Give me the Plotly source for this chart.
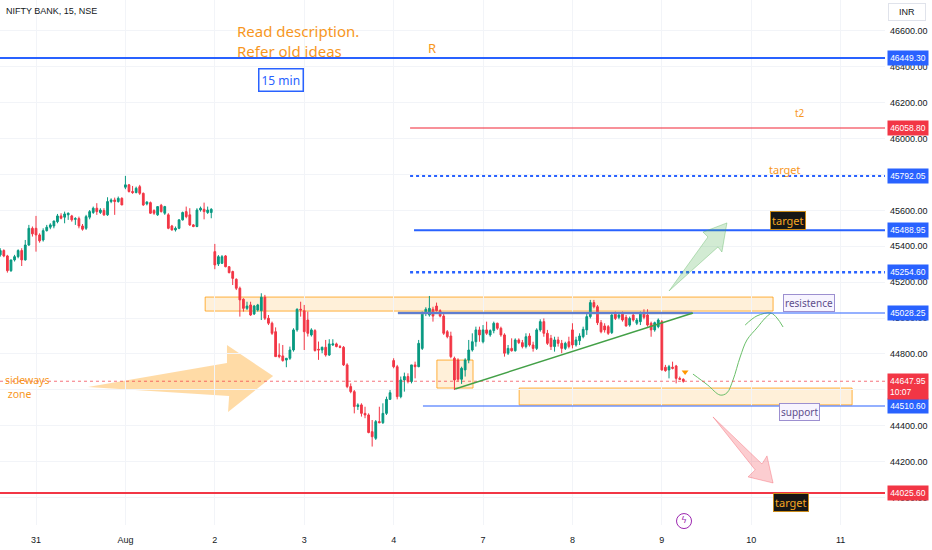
import plotly.graph_objects as go

# NIFTY BANK 15 min bars (10 bars of Jul 28, then 25 per session, Aug 9 partial)
bar_open = [45352, 45376, 45346, 45264, 45324, 45342, 45376, 45324, 45407, 45500,
            45500, 45463, 45435, 45487, 45506, 45513, 45537, 45569, 45562, 45575, 45569, 45550, 45554, 45513, 45500, 45562, 45588, 45612, 45588, 45599, 45575, 45649, 45658, 45649, 45667,
            45729, 45742, 45705, 45699, 45732, 45695, 45636, 45643, 45599, 45575, 45628, 45584, 45575, 45513, 45491, 45500, 45547, 45593, 45575, 45519, 45510, 45602, 45606, 45588, 45588,
            45370, 45301, 45305, 45346, 45286, 45259, 45216, 45166, 45105, 45054, 45073, 45023, 45045, 45041, 45116, 44999, 44971, 44924, 44794, 44789, 44766, 44776, 44822, 44934, 45049,
            45041, 44989, 44906, 44930, 44826, 44822, 44837, 44794, 44850, 44856, 44841, 44837, 44739, 44618, 44590, 44507, 44516, 44469, 44460, 44367, 44330, 44423, 44417, 44469, 44547,
            44763, 44729, 44562, 44655, 44674, 44646, 44739, 44729, 44831, 45026, 45017, 45049, 45067, 45041, 45011, 44924, 44900, 44776, 44766, 44659, 44711, 44766, 44822, 44868, 44934,
            44868, 44934, 44906, 44930, 44971, 44943, 44906, 44804, 44831, 44818, 44878, 44863, 44841, 44900, 44850, 44831, 44934, 44980, 44915, 44887, 44841, 44878, 44859, 44831, 44868,
            44934, 44850, 44874, 44896, 44934, 45008, 45086, 45063, 44974, 44956, 44952, 44919, 45026, 45004, 45026, 45004, 44961, 45017, 44971, 44980, 45026, 45017, 44971, 44934, 44952,
            44980, 44726, 44711, 44726, 44733, 44664, 44659]
bar_high = [45389, 45383, 45352, 45324, 45352, 45383, 45389, 45435, 45519, 45510,
            45569, 45472, 45500, 45519, 45528, 45541, 45580, 45584, 45593, 45588, 45575, 45562, 45565, 45524, 45575, 45602, 45621, 45640, 45612, 45612, 45673, 45667, 45671, 45677, 45673,
            45792, 45747, 45736, 45732, 45742, 45699, 45649, 45649, 45606, 45621, 45636, 45625, 45584, 45519, 45510, 45550, 45593, 45621, 45612, 45524, 45612, 45621, 45643, 45621, 45612,
            45413, 45351, 45351, 45351, 45290, 45264, 45221, 45175, 45110, 45091, 45091, 45073, 45079, 45138, 45129, 45017, 44980, 44948, 44859, 44850, 44776, 44841, 44943, 45054, 45091,
            45073, 45036, 44943, 44938, 44869, 44841, 44878, 44882, 44882, 44863, 44850, 44844, 44748, 44636, 44599, 44525, 44525, 44506, 44469, 44432, 44432, 44506, 44525, 44562, 44599,
            44776, 44739, 44674, 44696, 44692, 44739, 44757, 44878, 45036, 45060, 45123, 45063, 45086, 45049, 45026, 44933, 44924, 44785, 44776, 44729, 44776, 44878, 44915, 44952, 44952,
            44961, 44980, 44937, 44980, 44974, 44952, 44915, 44850, 44887, 44887, 44887, 44878, 44915, 44915, 44868, 44943, 44993, 44998, 44934, 44906, 44896, 44896, 44878, 44868, 44896,
            44971, 44896, 44915, 44952, 45026, 45101, 45101, 45073, 44989, 44971, 44961, 45030, 45036, 45030, 45036, 45017, 45008, 45030, 45000, 45036, 45049, 45049, 44980, 44980, 44998,
            44989, 44739, 44739, 44757, 44739, 44674, 44664]
bar_low = [45342, 45339, 45253, 45257, 45315, 45333, 45290, 45320, 45402, 45454,
           45370, 45420, 45426, 45482, 45495, 45500, 45528, 45550, 45528, 45547, 45537, 45519, 45500, 45487, 45491, 45550, 45580, 45575, 45580, 45569, 45569, 45640, 45575, 45643, 45630,
           45718, 45699, 45692, 45695, 45686, 45625, 45628, 45580, 45575, 45569, 45588, 45575, 45495, 45487, 45482, 45495, 45543, 45556, 45513, 45506, 45506, 45593, 45550, 45580, 45556,
           45272, 45290, 45301, 45283, 45249, 45184, 45156, 45008, 45036, 45045, 45012, 45017, 45036, 44989, 44989, 44961, 44906, 44785, 44776, 44757, 44726, 44767, 44813, 44924, 45008,
           44822, 44897, 44897, 44813, 44767, 44804, 44785, 44789, 44845, 44837, 44832, 44733, 44609, 44581, 44469, 44488, 44451, 44442, 44358, 44284, 44321, 44414, 44410, 44460, 44544,
           44720, 44547, 44553, 44590, 44636, 44636, 44664, 44726, 44822, 45011, 45008, 44980, 45036, 45004, 44906, 44887, 44776, 44599, 44646, 44633, 44674, 44748, 44813, 44841, 44868,
           44859, 44906, 44896, 44915, 44934, 44896, 44785, 44794, 44813, 44813, 44855, 44831, 44831, 44841, 44813, 44822, 44924, 44896, 44850, 44822, 44813, 44841, 44804, 44822, 44831,
           44831, 44841, 44850, 44887, 44906, 44998, 45054, 44961, 44915, 44919, 44906, 44911, 44989, 44993, 44980, 44952, 44952, 44980, 44961, 44961, 44993, 44952, 44896, 44924, 44943,
           44707, 44701, 44664, 44714, 44636, 44655, 44640]
bar_close = [45376, 45346, 45264, 45324, 45342, 45376, 45324, 45407, 45500, 45469,
             45463, 45430, 45487, 45506, 45519, 45541, 45569, 45556, 45580, 45584, 45547, 45554, 45513, 45495, 45565, 45593, 45612, 45593, 45602, 45575, 45649, 45658, 45649, 45667, 45630,
             45742, 45705, 45699, 45723, 45695, 45630, 45647, 45584, 45584, 45621, 45593, 45621, 45500, 45491, 45500, 45547, 45588, 45565, 45519, 45510, 45602, 45612, 45593, 45602, 45606,
             45296, 45342, 45342, 45286, 45253, 45221, 45166, 45101, 45054, 45067, 45017, 45067, 45073, 45116, 44999, 44971, 44915, 44785, 44785, 44763, 44776, 44822, 44934, 45049, 45045,
             44924, 44915, 44934, 44819, 44822, 44837, 44794, 44856, 44856, 44841, 44837, 44739, 44618, 44590, 44507, 44516, 44469, 44460, 44362, 44339, 44423, 44417, 44469, 44547, 44584,
             44729, 44562, 44655, 44674, 44646, 44739, 44729, 44859, 45030, 45049, 45054, 45011, 45041, 45011, 44915, 44896, 44785, 44655, 44659, 44720, 44766, 44822, 44868, 44934, 44906,
             44934, 44915, 44930, 44971, 44943, 44906, 44804, 44831, 44818, 44878, 44863, 44841, 44896, 44850, 44831, 44934, 44980, 44915, 44859, 44841, 44878, 44859, 44831, 44859, 44841,
             44850, 44878, 44900, 44937, 45008, 45086, 45063, 44974, 44924, 44934, 44915, 45017, 44998, 45017, 44989, 44956, 44998, 44989, 44989, 45026, 45004, 44961, 44934, 44974, 44989,
             44711, 44707, 44729, 44720, 44664, 44659, 44648]
bar_idx = list(range(-10, len(bar_close) - 10))

day_ticks = [0, 25, 50, 75, 100, 125, 150, 175, 200, 225]
day_labels = ['31', 'Aug', '2', '3', '4', '7', '8', '9', '10', '11']
price_ticks = list(range(44000, 46601, 200))
last_price = 44647.95

X_LO, X_HI = -10.07, 237.4
Y_LO, Y_HI = 43847, 46772

# horizontal levels: price, start bar, colour, width, dash, axis tag colour
levels = [
    (46449.30, X_LO, '#2962FF', 2, 'solid', '#2962FF'),
    (46058.80, 104.6, 'rgba(242,54,69,0.55)', 2, 'solid', '#F23645'),
    (45792.05, 104.6, '#2962FF', 2, 'dot', '#2962FF'),
    (45488.95, 105.7, '#2962FF', 2, 'solid', '#2962FF'),
    (45254.60, 104.6, '#2962FF', 2.5, 'dot', '#2962FF'),
    (45028.25, 101.2, 'rgba(41,98,255,0.5)', 2, 'solid', '#2962FF'),
    (44510.60, 108.2, 'rgba(41,98,255,0.5)', 2, 'solid', '#2962FF'),
    (44025.60, X_LO, '#F23645', 2, 'solid', '#F23645'),
]

# zone boxes: x0, x1, y0, y1
boxes = [(47.3, 206.1, 45039, 45117), (112.1, 122.2, 44610, 44766), (135.1, 228.2, 44516, 44610)]

trend_x = [117.2, 183.7]
trend_y = [44605, 45028]

# big drawn arrows (bar, price)
orange_arrow_x = [14.5, 53.4, 53.4, 66.3, 53.7, 54.0]
orange_arrow_y = [44616, 44750, 44850, 44677, 44477, 44566]
green_arrow_x = [177.0, 187.9, 186.5, 193.2, 191.8, 190.7]
green_arrow_y = [45151, 45452, 45479, 45530, 45368, 45396]
pink_arrow_x = [189.3, 201.1, 199.1, 206.1, 204.4, 203.0]
pink_arrow_y = [44449, 44154, 44115, 44081, 44232, 44187]

# hand drawn projection curve
curve_x = [183.7, 187.8, 191.3, 193.2, 194.9, 196.9, 198.8, 201.6, 203.9, 205.5]
curve_y = [44688, 44627, 44571, 44583, 44655, 44783, 44878, 44945, 45000, 45028]
branch_x = [198.3, 201.6, 205.5, 207.2, 208.9]
branch_y = [44961, 45012, 45028, 45000, 44950]

ORANGE = '#F7971E'
FONT = 'Noto Sans'


def poly_path(xs, ys):
    pts = ' L '.join(f'{x},{y}' for x, y in zip(xs, ys))
    return 'M ' + pts + ' Z'


fig = go.Figure()
fig.add_trace(go.Candlestick(
    x=bar_idx, open=bar_open, high=bar_high, low=bar_low, close=bar_close,
    increasing=dict(line=dict(color='#089981', width=1), fillcolor='#089981'),
    decreasing=dict(line=dict(color='#F23645', width=1), fillcolor='#F23645'),
    whiskerwidth=0, hoverinfo='skip', showlegend=False))

fig.add_trace(go.Scatter(x=curve_x, y=curve_y, mode='lines', line=dict(color='#6abf69', width=1, shape='spline'),
                         hoverinfo='skip', showlegend=False))
fig.add_trace(go.Scatter(x=branch_x, y=branch_y, mode='lines', line=dict(color='#6abf69', width=1, shape='spline'),
                         hoverinfo='skip', showlegend=False))
fig.add_trace(go.Scatter(x=[bar_idx[-1] + 0.5], y=[44700], mode='markers',
                         marker=dict(symbol='triangle-down', size=6, color='#FF9800'),
                         hoverinfo='skip', showlegend=False))
# lightning event marker near the time axis
fig.add_trace(go.Scatter(x=[181.2], y=[43869], mode='markers+text', text=['ϟ'], textposition='middle center',
                         textfont=dict(family='DejaVu Sans', size=9, color='#9c27b0'), cliponaxis=False,
                         marker=dict(symbol='circle', size=15, color='white', line=dict(color='#9c27b0', width=1)),
                         hoverinfo='skip', showlegend=False))

shapes = []
# gray ray under the resistance box
shapes.append(dict(type='line', xref='x', yref='y', x0=101.2, x1=183.5, y0=45028.25, y1=45028.25,
                   line=dict(color='#9598a1', width=2.5)))
for p, x0, col, w, dash, _ in levels:
    shapes.append(dict(type='line', xref='x', yref='y', x0=x0, x1=X_HI, y0=p, y1=p,
                       line=dict(color=col, width=w, dash=dash)))
shapes.append(dict(type='line', xref='x', yref='y', x0=X_LO, x1=X_HI, y0=last_price, y1=last_price,
                   line=dict(color='rgba(242,54,69,0.7)', width=1, dash='dot')))
for x0, x1, y0, y1 in boxes:
    shapes.append(dict(type='rect', xref='x', yref='y', x0=x0, x1=x1, y0=y0, y1=y1,
                       fillcolor='rgba(255,152,0,0.15)', line=dict(color='rgba(255,152,0,0.75)', width=1), layer='below'))
shapes.append(dict(type='line', xref='x', yref='y', x0=trend_x[0], x1=trend_x[1], y0=trend_y[0], y1=trend_y[1],
                   line=dict(color='#43a047', width=1.5)))
shapes.append(dict(type='path', xref='x', yref='y', path=poly_path(orange_arrow_x, orange_arrow_y),
                   fillcolor='rgba(255,152,0,0.35)', line=dict(width=0), layer='below'))
shapes.append(dict(type='path', xref='x', yref='y', path=poly_path(green_arrow_x, green_arrow_y),
                   fillcolor='rgba(76,175,80,0.25)', line=dict(color='rgba(76,175,80,0.35)', width=1)))
shapes.append(dict(type='path', xref='x', yref='y', path=poly_path(pink_arrow_x, pink_arrow_y),
                   fillcolor='rgba(242,54,69,0.25)', line=dict(color='rgba(242,54,69,0.3)', width=1)))

ann = []
ann.append(dict(xref='paper', yref='paper', x=0.005, y=0.993, xanchor='left', yanchor='top', showarrow=False,
                text='NIFTY BANK, 15, NSE', font=dict(family='Liberation Sans', size=9, color='#131722')))
ann.append(dict(xref='x', yref='y', x=55.6, y=46544, xanchor='left', yanchor='middle', showarrow=False, align='left',
                text='Read description.<br>Refer old ideas', font=dict(family=FONT, size=15, color=ORANGE)))
ann.append(dict(xref='x', yref='y', x=110.7, y=46505, showarrow=False, text='R',
                font=dict(family=FONT, size=13, color=ORANGE)))
ann.append(dict(xref='x', yref='y', x=68.5, y=46326, showarrow=False, text='15 min', bgcolor='white',
                bordercolor='#2962FF', borderwidth=1.5, borderpad=2, font=dict(family=FONT, size=12, color='#2962FF')))
ann.append(dict(xref='x', yref='y', x=213.6, y=46142, showarrow=False, text='t2',
                font=dict(family=FONT, size=10, color=ORANGE)))
ann.append(dict(xref='x', yref='y', x=209.5, y=45830, showarrow=False, text='target',
                font=dict(family=FONT, size=11, color=ORANGE)))
for tx, ty in [(210.3, 45546), (211.1, 43975)]:
    ann.append(dict(xref='x', yref='y', x=tx, y=ty, showarrow=False, text='target', bgcolor='#161616',
                    bordercolor='#C98A1A', borderwidth=1, borderpad=1, font=dict(family=FONT, size=11, color='#F5A623')))
for tx, ty, t in [(216.2, 45084, 'resistence'), (213.4, 44477, 'support')]:
    ann.append(dict(xref='x', yref='y', x=tx, y=ty, showarrow=False, text=t, bgcolor='#f7f4ff',
                    bordercolor='#9c8fd0', borderwidth=1, borderpad=1, font=dict(family=FONT, size=10, color='#5e4e8c')))
ann.append(dict(xref='x', yref='y', x=-9.2, y=44615, xanchor='left', yanchor='middle', showarrow=False, align='left',
                text='sideways<br>&nbsp;zone', font=dict(family=FONT, size=10.5, color=ORANGE)))
ann.append(dict(xref='paper', yref='paper', x=1, y=0.995, xanchor='left', yanchor='top', xshift=3, showarrow=False,
                text='INR', bgcolor='white', bordercolor='#e0e3eb', borderwidth=1, borderpad=3, width=30,
                font=dict(family='Liberation Sans', size=9, color='#131722')))
# price tags on the right axis
for p, _, _, _, _, tag in levels:
    ann.append(dict(xref='paper', yref='y', x=1, y=p, xanchor='left', yanchor='middle', xshift=2, showarrow=False,
                    text=f'{p:.2f}', bgcolor=tag, borderpad=2, width=36,
                    font=dict(family='Liberation Sans', size=8.5, color='white')))
ann.append(dict(xref='paper', yref='y', x=1, y=last_price, xanchor='left', yanchor='top', xshift=2, yshift=8,
                showarrow=False, text=f'{last_price:.2f}<br>10:07', align='left', bgcolor='#F23645', borderpad=2,
                width=36, font=dict(family='Liberation Sans', size=8.5, color='white')))

fig.update_layout(
    width=932, height=550, margin=dict(l=0, r=47, t=0, b=25),
    paper_bgcolor='white', plot_bgcolor='white',
    shapes=shapes, annotations=ann, showlegend=False, hovermode=False,
    xaxis=dict(range=[X_LO, X_HI], tickvals=day_ticks, ticktext=day_labels, showgrid=True, gridcolor='#f2f4f8',
               zeroline=False, showline=False, rangeslider=dict(visible=False), ticklabelstandoff=8,
               tickfont=dict(family='Liberation Sans', size=9, color='#131722')),
    yaxis=dict(range=[Y_LO, Y_HI], side='right', tickvals=price_ticks, ticktext=[f'{v:.2f}' for v in price_ticks],
               showgrid=True, gridcolor='#f2f4f8', zeroline=False, showline=False, ticklabelstandoff=4,
               tickfont=dict(family='Liberation Sans', size=9, color='#131722')),
)

# page has a default 8px body margin, drop it so the figure fills the window
fig.write_html("out.html", config={'displayModeBar': False},
               post_script="document.body.style.margin='0';")
